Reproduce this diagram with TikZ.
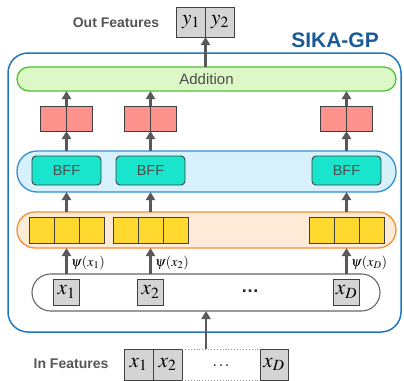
\documentclass[tikz,border=0pt]{standalone}
\usepackage{mathptmx}
\usepackage{fontspec}
\setsansfont{Liberation Sans}
\usetikzlibrary{arrows.meta}
\definecolor{outerblue}{HTML}{1F78C1}
\definecolor{titleblue}{HTML}{1A5A96}
\definecolor{addfill}{HTML}{DCF8C6}
\definecolor{adddraw}{HTML}{52C234}
\definecolor{redfill}{HTML}{FD928D}
\definecolor{bandblue}{HTML}{D6F0FC}
\definecolor{banddraw}{HTML}{3590D0}
\definecolor{bfffill}{HTML}{18E5CC}
\definecolor{orfill}{HTML}{FDEBD7}
\definecolor{ordraw}{HTML}{F39033}
\definecolor{yel}{HTML}{FFD92F}
\definecolor{boxgray}{HTML}{D4D4D4}
\definecolor{linegray}{HTML}{595959}
\definecolor{txtgray}{HTML}{555555}
\tikzset{
  cell/.style={draw=black!75, line width=0.9pt, inner sep=0pt, outer sep=0pt},
  redcell/.style={cell, fill=redfill, minimum width=26pt, minimum height=25pt},
  yelcell/.style={cell, fill=yel, minimum width=25pt, minimum height=26pt},
  graycell/.style={cell, fill=boxgray},
  bffbox/.style={draw=black!75, line width=0.9pt, fill=bfffill, rounded corners=4pt,
    minimum width=69pt, minimum height=29pt, inner sep=0pt,
    font=\fontsize{14.5}{16}\selectfont\sffamily, text=black!70},
  band/.style={line width=1.3pt, inner sep=0pt, outer sep=0pt},
  arr/.style={draw=linegray, line width=2.2pt, -{Triangle[length=8pt,width=9pt]}},
  lbl/.style={font=\fontsize{14}{16}\selectfont\sffamily\bfseries, text=txtgray},
  mth/.style={font=\fontsize{21}{23}\selectfont},
  psi/.style={font=\fontsize{14}{16}\selectfont, anchor=west, inner sep=1pt},
}
\begin{document}
\begin{tikzpicture}[x=1pt,y=-1pt]
\useasboundingbox (0,0) rectangle (404,380);
% outer frame
\node[band, draw=outerblue, line width=1.5pt, rounded corners=20pt, minimum width=393pt, minimum height=279pt] (outer) at (204.5,192.5) {};
\node[font=\fontsize{21}{24}\selectfont\sffamily\bfseries, text=titleblue] (title) at (335,40) {SIKA-GP};
% output
\node[lbl] (outlbl) at (116,23) {Out Features};
\node[graycell, minimum width=29pt, minimum height=30pt, mth] (y1) at (191,22) {$y_1$};
\node[graycell, minimum width=29pt, minimum height=30pt, mth] (y2) at (220,22) {$y_2$};
% addition
\node[band, draw=adddraw, fill=addfill, rounded corners=12pt, minimum width=379pt, minimum height=24pt,
  font=\fontsize{15}{17}\selectfont\sffamily, text=black!70] (add) at (206.5,79) {Addition};
% red boxes
\node[redcell] (r1a) at (53.5,118.5) {};
\node[redcell] (r1b) at (79.5,118.5) {};
\node[redcell] (r2a) at (137.5,118.5) {};
\node[redcell] (r2b) at (163.5,118.5) {};
\node[redcell] (r3a) at (333.5,118.5) {};
\node[redcell] (r3b) at (359.5,118.5) {};
% BFF band
\node[band, draw=banddraw, fill=bandblue, rounded corners=20pt, minimum width=379pt, minimum height=41pt] (bffband) at (206.5,171.5) {};
\node[bffbox] (b1) at (66.5,170.5) {BFF};
\node[bffbox] (b2) at (150.5,170.5) {BFF};
\node[bffbox] (b3) at (346.5,170.5) {BFF};
% orange band
\node[band, draw=ordraw, fill=orfill, rounded corners=18pt, minimum width=379pt, minimum height=36pt] (orband) at (206.5,230) {};
\foreach \c/\n in {41.5/y1a,66.5/y1b,91.5/y1c,125.5/y2a,150.5/y2b,175.5/y2c,321.5/y3a,346.5/y3b,371.5/y3c}
  \node[yelcell] (\n) at (\c,230) {};
% input band
\node[band, draw=black!60, fill=white, line width=1.1pt, rounded corners=18.5pt, minimum width=348pt, minimum height=37pt] (inband) at (206,292.5) {};
\node[graycell, minimum width=26pt, minimum height=26pt, mth] (x1) at (66.5,292) {$x_1$};
\node[graycell, minimum width=26pt, minimum height=26pt, mth] (x2) at (150.5,292) {$x_2$};
\node[graycell, minimum width=26pt, minimum height=26pt, mth] (xD) at (346.5,292) {$x_D$};
\node[font=\fontsize{18}{20}\selectfont\sffamily\bfseries, text=black!85] (dots) at (250,291) {…};
% psi labels
\node[psi] (p1) at (70,263) {$\psi(x_1)$};
\node[psi] (p2) at (154,263) {$\psi(x_2)$};
\node[psi] (p3) at (350,263) {$\psi(x_D)$};
% input features
\node[lbl] (inlbl) at (71,364) {In Features};
\node[graycell, minimum width=29pt, minimum height=31pt, mth] (i1) at (138.5,364.5) {$x_1$};
\node[graycell, minimum width=29pt, minimum height=31pt, mth] (i2) at (167.5,364.5) {$x_2$};
\node[inner sep=0pt, outer sep=0pt, minimum width=78pt, minimum height=31pt] (idots) at (221,364.5) {};
\node[font=\fontsize{16}{18}\selectfont] (idotstxt) at (221,366) {$\ldots$};
\node[graycell, minimum width=28pt, minimum height=31pt, mth] (iD) at (274,364.5) {$x_D$};
\draw[black!45, line width=0.9pt, dotted] (idots.north west) -- (idots.north east);
\draw[black!45, line width=0.9pt, dotted] (idots.south west) -- (idots.south east);
% arrows
\draw[arr] (add.north -| y1.east) -- (y1.south east);
\draw[arr] (r1a.north east) -- (r1a.north east |- add.south);
\draw[arr] (r2a.north east) -- (r2a.north east |- add.south);
\draw[arr] (r3a.north east) -- (r3a.north east |- add.south);
\draw[arr] (b1.north |- bffband.north) -- (r1a.south east);
\draw[arr] (b2.north |- bffband.north) -- (r2a.south east);
\draw[arr] (b3.north |- bffband.north) -- (r3a.south east);
\draw[arr] (y1b.north |- orband.north) -- (b1.south |- bffband.south);
\draw[arr] (y2b.north |- orband.north) -- (b2.south |- bffband.south);
\draw[arr] (y3b.north |- orband.north) -- (b3.south |- bffband.south);
\draw[arr] (x1.north |- inband.north) -- (x1.north |- orband.south);
\draw[arr] (x2.north |- inband.north) -- (x2.north |- orband.south);
\draw[arr] (xD.north |- inband.north) -- (xD.north |- orband.south);
\draw[arr] (inband.south |- idots.north) -- (inband.south);
\end{tikzpicture}
\end{document}
